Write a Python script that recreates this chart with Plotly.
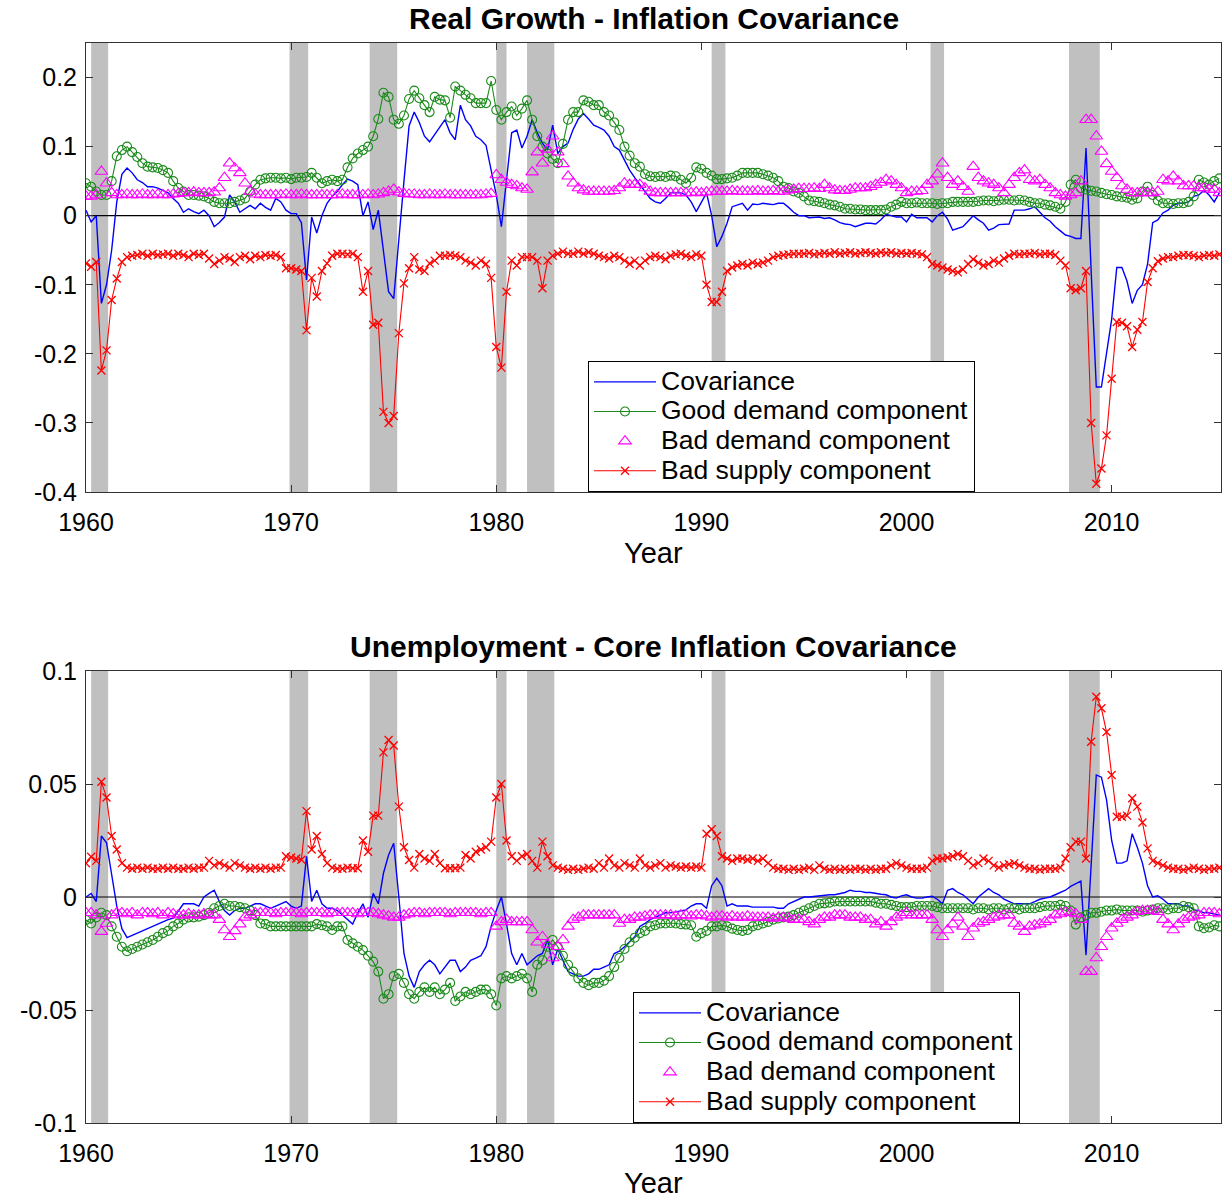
import plotly.graph_objects as go

# ---------------- data (quarterly, 1960Q1 .. 2015Q2) ----------------
cov1 = [
    0.008, -0.009, 0.0, -0.127,     # 1960
    -0.1, -0.05, 0.02, 0.06,        # 1961
    0.069, 0.062, 0.052, 0.048,     # 1962
    0.042, 0.042, 0.04, 0.036,      # 1963
    0.033, 0.025, 0.018, 0.005,     # 1964
    0.01, 0.006, 0.003, 0.008,      # 1965
    0.0, -0.016, -0.01, -0.002,     # 1966
    0.03, 0.02, 0.005, 0.01,        # 1967
    0.015, 0.01, 0.018, 0.012,      # 1968
    0.008, 0.025, 0.02, 0.008,      # 1969
    0.003, 0.003, -0.01, -0.093,    # 1970
    -0.002, -0.025, 0.0, 0.018,     # 1971
    0.028, 0.035, 0.045, 0.053,     # 1972
    0.05, 0.045, 0.0, 0.02,         # 1973
    -0.02, 0.008, -0.05, -0.11,     # 1974
    -0.12, -0.03, 0.05, 0.13,       # 1975
    0.15, 0.135, 0.115, 0.107,      # 1976
    0.118, 0.129, 0.139, 0.12,      # 1977
    0.11, 0.16, 0.139, 0.13,        # 1978
    0.115, 0.11, 0.102, 0.066,      # 1979
    0.03, -0.016, 0.052, 0.12,      # 1980
    0.124, 0.098, 0.115, 0.139,     # 1981
    0.12, 0.105, 0.095, 0.131,      # 1982
    0.09, 0.1, 0.105, 0.125,        # 1983
    0.14, 0.148, 0.14, 0.131,       # 1984
    0.128, 0.124, 0.115, 0.1,       # 1985
    0.095, 0.08, 0.066, 0.055,      # 1986
    0.045, 0.035, 0.025, 0.02,      # 1987
    0.018, 0.025, 0.033, 0.033,     # 1988
    0.033, 0.03, 0.02, 0.006,       # 1989
    0.02, 0.033, 0.0, -0.045,       # 1990
    -0.03, -0.011, 0.013, 0.015,    # 1991
    0.018, 0.008, 0.017, 0.016,     # 1992
    0.018, 0.017, 0.016, 0.018,     # 1993
    0.018, 0.012, 0.005, 0.0,       # 1994
    0.0, -0.003, -0.003, -0.002,    # 1995
    -0.004, -0.003, -0.006, -0.01,  # 1996
    -0.012, -0.013, -0.016, -0.013, # 1997
    -0.011, -0.011, -0.012, -0.006, # 1998
    0.002, 0.0, -0.002, -0.002,     # 1999
    -0.009, 0.002, -0.003, -0.003,  # 2000
    -0.003, -0.009, 0.0, 0.005,     # 2001
    -0.005, -0.021, -0.018, -0.016, # 2002
    -0.008, 0.0, -0.006, -0.011,    # 2003
    -0.021, -0.018, -0.013, -0.013, # 2004
    -0.012, 0.008, 0.008, 0.008,    # 2005
    0.01, 0.013, 0.005, -0.003,     # 2006
    -0.008, -0.016, -0.022, -0.028, # 2007
    -0.03, -0.033, -0.033, 0.098,   # 2008
    -0.08, -0.248, -0.248, -0.2,    # 2009
    -0.15, -0.075, -0.075, -0.095,  # 2010
    -0.127, -0.108, -0.1, -0.07,    # 2011
    -0.01, -0.006, 0.004, 0.008,    # 2012
    0.015, 0.018, 0.018, 0.02,      # 2013
    0.028, 0.03, 0.037, 0.03,       # 2014
    0.02, 0.033,                    # 2015
]

good1 = [
    0.047, 0.042, 0.035, 0.03,      # 1960
    0.03, 0.05, 0.086, 0.095,       # 1961
    0.1, 0.092, 0.085, 0.076,       # 1962
    0.071, 0.07, 0.069, 0.066,      # 1963
    0.062, 0.05, 0.04, 0.035,       # 1964
    0.03, 0.03, 0.029, 0.028,       # 1965
    0.025, 0.02, 0.018, 0.018,      # 1966
    0.018, 0.02, 0.022, 0.025,      # 1967
    0.035, 0.045, 0.052, 0.054,     # 1968
    0.055, 0.055, 0.054, 0.055,     # 1969
    0.053, 0.055, 0.055, 0.056,     # 1970
    0.062, 0.055, 0.047, 0.05,      # 1971
    0.052, 0.05, 0.052, 0.07,       # 1972
    0.083, 0.09, 0.095, 0.1,        # 1973
    0.115, 0.14, 0.178, 0.172,      # 1974
    0.139, 0.133, 0.145, 0.169,     # 1975
    0.181, 0.17, 0.16, 0.15,        # 1976
    0.172, 0.168, 0.167, 0.142,     # 1977
    0.187, 0.181, 0.175, 0.17,      # 1978
    0.163, 0.163, 0.163, 0.195,     # 1979
    0.153, 0.139, 0.15, 0.158,      # 1980
    0.145, 0.155, 0.167, 0.139,     # 1981
    0.115, 0.1, 0.09, 0.082,        # 1982
    0.076, 0.104, 0.139, 0.15,      # 1983
    0.15, 0.167, 0.165, 0.16,       # 1984
    0.16, 0.15, 0.145, 0.135,       # 1985
    0.124, 0.1, 0.087, 0.076,       # 1986
    0.071, 0.06, 0.057, 0.056,      # 1987
    0.057, 0.056, 0.058, 0.057,     # 1988
    0.052, 0.047, 0.055, 0.07,      # 1989
    0.068, 0.062, 0.058, 0.053,     # 1990
    0.053, 0.054, 0.055, 0.058,     # 1991
    0.062, 0.062, 0.062, 0.062,     # 1992
    0.06, 0.058, 0.055, 0.05,       # 1993
    0.042, 0.04, 0.035, 0.033,      # 1994
    0.028, 0.022, 0.021, 0.02,      # 1995
    0.018, 0.016, 0.015, 0.013,     # 1996
    0.01, 0.01, 0.009, 0.009,       # 1997
    0.008, 0.008, 0.008, 0.008,     # 1998
    0.009, 0.013, 0.016, 0.02,      # 1999
    0.018, 0.018, 0.019, 0.018,     # 2000
    0.018, 0.018, 0.017, 0.018,     # 2001
    0.018, 0.02, 0.02, 0.02,        # 2002
    0.02, 0.02, 0.021, 0.022,       # 2003
    0.022, 0.021, 0.022, 0.023,     # 2004
    0.023, 0.022, 0.023, 0.022,     # 2005
    0.02, 0.018, 0.018, 0.016,      # 2006
    0.015, 0.013, 0.01, 0.02,       # 2007
    0.045, 0.052, 0.04, 0.038,      # 2008
    0.036, 0.035, 0.033, 0.031,     # 2009
    0.03, 0.028, 0.027, 0.026,      # 2010
    0.023, 0.025, 0.035, 0.042,     # 2011
    0.03, 0.022, 0.018, 0.018,      # 2012
    0.017, 0.018, 0.018, 0.02,      # 2013
    0.028, 0.052, 0.048, 0.045,     # 2014
    0.05, 0.054,                    # 2015
]

baddem1 = [
    0.028, 0.028, 0.03, 0.064,      # 1960
    0.047, 0.033, 0.03, 0.03,       # 1961
    0.031, 0.03, 0.03, 0.031,       # 1962
    0.03, 0.03, 0.031, 0.03,        # 1963
    0.03, 0.031, 0.032, 0.033,      # 1964
    0.033, 0.034, 0.033, 0.033,     # 1965
    0.033, 0.034, 0.04, 0.055,      # 1966
    0.076, 0.069, 0.062, 0.047,     # 1967
    0.035, 0.031, 0.03, 0.03,       # 1968
    0.03, 0.03, 0.03, 0.031,        # 1969
    0.03, 0.03, 0.031, 0.03,        # 1970
    0.03, 0.03, 0.03, 0.03,         # 1971
    0.03, 0.03, 0.031, 0.03,        # 1972
    0.03, 0.03, 0.03, 0.031,        # 1973
    0.03, 0.031, 0.033, 0.035,      # 1974
    0.038, 0.034, 0.032, 0.031,     # 1975
    0.031, 0.03, 0.03, 0.031,       # 1976
    0.03, 0.03, 0.031, 0.03,        # 1977
    0.03, 0.03, 0.03, 0.03,         # 1978
    0.03, 0.03, 0.031, 0.032,       # 1979
    0.059, 0.052, 0.048, 0.045,     # 1980
    0.043, 0.04, 0.038, 0.063,      # 1981
    0.092, 0.076, 0.096, 0.115,     # 1982
    0.092, 0.075, 0.057, 0.047,     # 1983
    0.04, 0.037, 0.035, 0.035,      # 1984
    0.035, 0.035, 0.035, 0.036,     # 1985
    0.04, 0.047, 0.045, 0.045,      # 1986
    0.045, 0.04, 0.035, 0.033,      # 1987
    0.033, 0.033, 0.033, 0.033,     # 1988
    0.033, 0.033, 0.033, 0.034,     # 1989
    0.033, 0.034, 0.035, 0.035,     # 1990
    0.035, 0.035, 0.036, 0.035,     # 1991
    0.035, 0.035, 0.035, 0.036,     # 1992
    0.035, 0.035, 0.036, 0.035,     # 1993
    0.035, 0.037, 0.038, 0.039,     # 1994
    0.039, 0.039, 0.04, 0.039,      # 1995
    0.045, 0.04, 0.037, 0.036,      # 1996
    0.036, 0.038, 0.04, 0.04,       # 1997
    0.04, 0.042, 0.045, 0.048,      # 1998
    0.052, 0.05, 0.045, 0.04,       # 1999
    0.033, 0.035, 0.035, 0.036,     # 2000
    0.045, 0.05, 0.06, 0.076,       # 2001
    0.055, 0.045, 0.05, 0.042,      # 2002
    0.035, 0.071, 0.055, 0.05,      # 2003
    0.047, 0.045, 0.04, 0.033,      # 2004
    0.045, 0.055, 0.062, 0.066,     # 2005
    0.052, 0.05, 0.052, 0.045,      # 2006
    0.04, 0.033, 0.03, 0.028,       # 2007
    0.03, 0.033, 0.05, 0.139,       # 2008
    0.139, 0.115, 0.093, 0.075,     # 2009
    0.064, 0.055, 0.043, 0.038,     # 2010
    0.033, 0.033, 0.033, 0.033,     # 2011
    0.033, 0.035, 0.052, 0.05,      # 2012
    0.057, 0.05, 0.043, 0.043,      # 2013
    0.043, 0.04, 0.04, 0.038,       # 2014
    0.038, 0.033,                   # 2015
]

badsup1 = [
    -0.069, -0.074, -0.067, -0.224, # 1960
    -0.195, -0.122, -0.091, -0.067, # 1961
    -0.06, -0.058, -0.057, -0.055,  # 1962
    -0.058, -0.055, -0.057, -0.056, # 1963
    -0.055, -0.058, -0.055, -0.057, # 1964
    -0.06, -0.055, -0.057, -0.055,  # 1965
    -0.062, -0.07, -0.065, -0.06,   # 1966
    -0.062, -0.067, -0.06, -0.058,  # 1967
    -0.063, -0.058, -0.06, -0.057,  # 1968
    -0.058, -0.057, -0.06, -0.076,  # 1969
    -0.076, -0.078, -0.08, -0.166,  # 1970
    -0.09, -0.117, -0.08, -0.069,   # 1971
    -0.058, -0.055, -0.055, -0.056, # 1972
    -0.055, -0.06, -0.11, -0.08,    # 1973
    -0.158, -0.155, -0.284, -0.3,   # 1974
    -0.29, -0.17, -0.098, -0.076,   # 1975
    -0.06, -0.078, -0.08, -0.069,   # 1976
    -0.065, -0.058, -0.058, -0.057, # 1977
    -0.058, -0.06, -0.065, -0.068,  # 1978
    -0.072, -0.065, -0.07, -0.09,   # 1979
    -0.19, -0.22, -0.11, -0.065,    # 1980
    -0.072, -0.06, -0.06, -0.06,    # 1981
    -0.065, -0.105, -0.065, -0.058, # 1982
    -0.055, -0.052, -0.055, -0.055, # 1983
    -0.052, -0.055, -0.053, -0.055, # 1984
    -0.058, -0.06, -0.062, -0.058,  # 1985
    -0.06, -0.065, -0.07, -0.065,   # 1986
    -0.072, -0.065, -0.06, -0.058,  # 1987
    -0.06, -0.063, -0.058, -0.056,  # 1988
    -0.055, -0.058, -0.06, -0.056,  # 1989
    -0.058, -0.1, -0.125, -0.125,   # 1990
    -0.11, -0.08, -0.075, -0.072,   # 1991
    -0.07, -0.072, -0.068, -0.07,   # 1992
    -0.068, -0.065, -0.06, -0.058,  # 1993
    -0.057, -0.056, -0.055, -0.055, # 1994
    -0.055, -0.054, -0.056, -0.055, # 1995
    -0.054, -0.055, -0.053, -0.055, # 1996
    -0.054, -0.053, -0.055, -0.054, # 1997
    -0.053, -0.054, -0.055, -0.053, # 1998
    -0.054, -0.053, -0.055, -0.054, # 1999
    -0.055, -0.054, -0.055, -0.056, # 2000
    -0.06, -0.07, -0.072, -0.075,   # 2001
    -0.078, -0.08, -0.082, -0.078,  # 2002
    -0.07, -0.063, -0.068, -0.072,  # 2003
    -0.07, -0.065, -0.068, -0.062,  # 2004
    -0.058, -0.055, -0.056, -0.055, # 2005
    -0.055, -0.054, -0.056, -0.055, # 2006
    -0.055, -0.057, -0.065, -0.072, # 2007
    -0.105, -0.108, -0.105, -0.08,  # 2008
    -0.3, -0.388, -0.366, -0.318,   # 2009
    -0.236, -0.154, -0.155, -0.16,  # 2010
    -0.19, -0.165, -0.154, -0.096,  # 2011
    -0.076, -0.066, -0.062, -0.06,  # 2012
    -0.06, -0.058, -0.057, -0.057,  # 2013
    -0.058, -0.06, -0.058, -0.057,  # 2014
    -0.058, -0.056,                 # 2015
]

cov2 = [
    0.0, 0.0016, -0.002, 0.027,         # 1960
    0.024, 0.01, -0.004, -0.014,        # 1961
    -0.018, -0.017, -0.016, -0.015,     # 1962
    -0.014, -0.013, -0.012, -0.011,     # 1963
    -0.01, -0.0094, -0.006, -0.003,     # 1964
    -0.003, -0.003, -0.004, 0.0,        # 1965
    0.0016, 0.003, -0.002, -0.006,      # 1966
    -0.008, -0.006, -0.005, -0.005,     # 1967
    -0.004, -0.003, -0.003, -0.004,     # 1968
    -0.005, -0.004, -0.003, -0.002,     # 1969
    -0.004, -0.005, -0.004, 0.018,      # 1970
    -0.002, 0.003, -0.003, -0.005,      # 1971
    -0.005, -0.006, -0.008, -0.01,      # 1972
    -0.012, -0.007, -0.003, -0.009,     # 1973
    0.0016, -0.003, 0.0105, 0.0186,     # 1974
    0.0238, 0.0, -0.025, -0.035,        # 1975
    -0.04, -0.033, -0.03, -0.028,       # 1976
    -0.03, -0.034, -0.031, -0.028,      # 1977
    -0.028, -0.033, -0.031, -0.028,     # 1978
    -0.027, -0.026, -0.022, -0.013,     # 1979
    -0.006, 0.0, -0.012, -0.025,        # 1980
    -0.03, -0.025, -0.03, -0.028,       # 1981
    -0.026, -0.025, -0.019, -0.03,      # 1982
    -0.023, -0.028, -0.033, -0.034,     # 1983
    -0.035, -0.035, -0.034, -0.032,     # 1984
    -0.032, -0.031, -0.03, -0.025,      # 1985
    -0.024, -0.022, -0.02, -0.0176,     # 1986
    -0.013, -0.0117, -0.01, -0.009,     # 1987
    -0.008, -0.007, -0.007, -0.0065,    # 1988
    -0.006, -0.0057, -0.004, -0.003,    # 1989
    -0.003, -0.005, 0.005, 0.0083,      # 1990
    0.005, -0.004, -0.003, -0.004,      # 1991
    -0.004, -0.004, -0.0045, -0.0045,   # 1992
    -0.0045, -0.0045, -0.0045, -0.005,  # 1993
    -0.005, -0.003, -0.002, -0.001,     # 1994
    0.0, 0.0, 0.0003, 0.0005,           # 1995
    0.0008, 0.001, 0.001, 0.0015,       # 1996
    0.002, 0.003, 0.0025, 0.0025,       # 1997
    0.002, 0.002, 0.0015, 0.0012,       # 1998
    0.001, 0.0, -0.0005, 0.0005,        # 1999
    0.001, 0.0, -0.0005, -0.0005,       # 2000
    0.0, 0.0003, -0.001, -0.003,        # 2001
    0.003, 0.0037, 0.002, 0.001,        # 2002
    -0.001, -0.003, 0.0, 0.002,         # 2003
    0.0037, 0.002, 0.001, -0.001,       # 2004
    -0.002, -0.003, -0.003, -0.003,     # 2005
    -0.003, -0.002, -0.001, -0.0005,    # 2006
    0.0, 0.001, 0.002, 0.003,           # 2007
    0.0047, 0.006, 0.007, -0.0257,      # 2008
    0.015, 0.054, 0.053, 0.043,         # 2009
    0.025, 0.015, 0.015, 0.016,         # 2010
    0.028, 0.022, 0.015, 0.005,         # 2011
    0.0, 0.0005, -0.001, -0.003,        # 2012
    -0.003, -0.003, -0.004, -0.004,     # 2013
    -0.0057, -0.006, -0.007, -0.007,    # 2014
    -0.0075, -0.008,                    # 2015
]

good2 = [
    -0.0102, -0.0117, -0.009, -0.007,   # 1960
    -0.008, -0.013, -0.0176, -0.022,    # 1961
    -0.024, -0.023, -0.022, -0.021,     # 1962
    -0.02, -0.019, -0.0176, -0.016,     # 1963
    -0.015, -0.013, -0.0117, -0.01,     # 1964
    -0.009, -0.009, -0.0087, -0.008,    # 1965
    -0.007, -0.005, -0.004, -0.003,     # 1966
    -0.004, -0.004, -0.0045, -0.005,    # 1967
    -0.006, -0.008, -0.0117, -0.012,    # 1968
    -0.013, -0.013, -0.013, -0.013,     # 1969
    -0.013, -0.013, -0.013, -0.013,     # 1970
    -0.013, -0.012, -0.0125, -0.013,    # 1971
    -0.0146, -0.013, -0.013, -0.019,    # 1972
    -0.0205, -0.022, -0.0235, -0.026,   # 1973
    -0.0286, -0.033, -0.045, -0.043,    # 1974
    -0.035, -0.034, -0.038, -0.043,     # 1975
    -0.045, -0.042, -0.04, -0.042,      # 1976
    -0.04, -0.043, -0.041, -0.038,      # 1977
    -0.046, -0.044, -0.042, -0.043,     # 1978
    -0.042, -0.041, -0.041, -0.043,     # 1979
    -0.048, -0.036, -0.035, -0.036,     # 1980
    -0.035, -0.034, -0.036, -0.042,     # 1981
    -0.03, -0.028, -0.022, -0.019,      # 1982
    -0.022, -0.026, -0.03, -0.033,      # 1983
    -0.036, -0.038, -0.039, -0.038,     # 1984
    -0.038, -0.037, -0.035, -0.031,     # 1985
    -0.027, -0.023, -0.02, -0.018,      # 1986
    -0.016, -0.015, -0.013, -0.0125,    # 1987
    -0.0117, -0.0117, -0.0115, -0.0117, # 1988
    -0.012, -0.0122, -0.0125, -0.0176,  # 1989
    -0.016, -0.015, -0.013, -0.013,     # 1990
    -0.0125, -0.013, -0.014, -0.0146,   # 1991
    -0.015, -0.0146, -0.013, -0.0125,   # 1992
    -0.0117, -0.011, -0.01, -0.0095,    # 1993
    -0.009, -0.0087, -0.008, -0.007,    # 1994
    -0.006, -0.005, -0.004, -0.003,     # 1995
    -0.0028, -0.0025, -0.002, -0.002,   # 1996
    -0.002, -0.002, -0.002, -0.002,     # 1997
    -0.002, -0.002, -0.0025, -0.003,    # 1998
    -0.003, -0.0035, -0.004, -0.0045,   # 1999
    -0.0045, -0.0045, -0.004, -0.004,   # 2000
    -0.004, -0.004, -0.0045, -0.005,    # 2001
    -0.005, -0.005, -0.005, -0.005,     # 2002
    -0.005, -0.0055, -0.005, -0.005,    # 2003
    -0.0055, -0.005, -0.005, -0.0055,   # 2004
    -0.005, -0.005, -0.0055, -0.005,    # 2005
    -0.005, -0.005, -0.0045, -0.004,    # 2006
    -0.004, -0.004, -0.0035, -0.004,    # 2007
    -0.006, -0.0122, -0.009, -0.008,    # 2008
    -0.007, -0.007, -0.0065, -0.006,    # 2009
    -0.006, -0.0055, -0.006, -0.006,    # 2010
    -0.006, -0.006, -0.0065, -0.006,    # 2011
    -0.0055, -0.005, -0.005, -0.0055,   # 2012
    -0.005, -0.005, -0.004, -0.0045,    # 2013
    -0.005, -0.013, -0.0138, -0.0135,   # 2014
    -0.0125, -0.013,                    # 2015
]

baddem2 = [
    -0.007, -0.007, -0.008, -0.0153,    # 1960
    -0.0117, -0.008, -0.007, -0.007,    # 1961
    -0.0075, -0.007, -0.008, -0.007,    # 1962
    -0.007, -0.0075, -0.007, -0.008,    # 1963
    -0.007, -0.0075, -0.008, -0.008,    # 1964
    -0.0075, -0.008, -0.008, -0.0075,   # 1965
    -0.008, -0.008, -0.01, -0.0146,     # 1966
    -0.0176, -0.015, -0.012, -0.009,    # 1967
    -0.008, -0.007, -0.007, -0.007,     # 1968
    -0.007, -0.0075, -0.007, -0.007,    # 1969
    -0.007, -0.007, -0.0075, -0.007,    # 1970
    -0.007, -0.007, -0.007, -0.0075,    # 1971
    -0.007, -0.007, -0.007, -0.007,     # 1972
    -0.007, -0.0075, -0.007, -0.007,    # 1973
    -0.007, -0.0075, -0.008, -0.0085,   # 1974
    -0.009, -0.009, -0.008, -0.0075,    # 1975
    -0.007, -0.007, -0.0075, -0.007,    # 1976
    -0.007, -0.007, -0.007, -0.0075,    # 1977
    -0.007, -0.007, -0.007, -0.007,     # 1978
    -0.007, -0.0075, -0.007, -0.007,    # 1979
    -0.013, -0.011, -0.01, -0.011,      # 1980
    -0.011, -0.011, -0.011, -0.0146,    # 1981
    -0.02, -0.0176, -0.021, -0.027,     # 1982
    -0.022, -0.019, -0.013, -0.01,      # 1983
    -0.009, -0.008, -0.008, -0.008,     # 1984
    -0.008, -0.008, -0.008, -0.008,     # 1985
    -0.0117, -0.01, -0.01, -0.009,      # 1986
    -0.009, -0.0085, -0.008, -0.008,    # 1987
    -0.008, -0.008, -0.008, -0.0085,    # 1988
    -0.008, -0.008, -0.0085, -0.008,    # 1989
    -0.008, -0.0085, -0.009, -0.0085,   # 1990
    -0.0085, -0.009, -0.0085, -0.009,   # 1991
    -0.009, -0.0085, -0.009, -0.009,    # 1992
    -0.009, -0.009, -0.0095, -0.009,    # 1993
    -0.009, -0.0095, -0.01, -0.01,      # 1994
    -0.01, -0.011, -0.012, -0.01,       # 1995
    -0.009, -0.009, -0.008, -0.008,     # 1996
    -0.008, -0.009, -0.009, -0.009,     # 1997
    -0.01, -0.01, -0.012, -0.011,       # 1998
    -0.013, -0.011, -0.009, -0.008,     # 1999
    -0.007, -0.008, -0.008, -0.008,     # 2000
    -0.008, -0.01, -0.0146, -0.0176,    # 2001
    -0.0146, -0.012, -0.009, -0.013,    # 2002
    -0.0176, -0.0138, -0.0117, -0.011,  # 2003
    -0.01, -0.009, -0.0085, -0.008,     # 2004
    -0.008, -0.0117, -0.013, -0.0153,   # 2005
    -0.013, -0.0125, -0.012, -0.011,    # 2006
    -0.01, -0.008, -0.0075, -0.0067,    # 2007
    -0.007, -0.0075, -0.01, -0.033,     # 2008
    -0.033, -0.027, -0.022, -0.0176,    # 2009
    -0.0138, -0.0117, -0.01, -0.009,    # 2010
    -0.008, -0.0065, -0.006, -0.006,    # 2011
    -0.006, -0.0065, -0.01, -0.012,     # 2012
    -0.0146, -0.012, -0.01, -0.009,     # 2013
    -0.0085, -0.008, -0.007, -0.007,    # 2014
    -0.007, -0.0075,                    # 2015
]

badsup2 = [
    0.0149, 0.0178, 0.016, 0.051,       # 1960
    0.044, 0.027, 0.021, 0.015,         # 1961
    0.013, 0.0125, 0.013, 0.0125,       # 1962
    0.013, 0.0125, 0.0125, 0.013,       # 1963
    0.0125, 0.013, 0.0125, 0.0125,      # 1964
    0.013, 0.0125, 0.013, 0.013,        # 1965
    0.016, 0.014, 0.015, 0.014,         # 1966
    0.013, 0.015, 0.014, 0.013,         # 1967
    0.0125, 0.013, 0.0125, 0.013,       # 1968
    0.0125, 0.013, 0.013, 0.018,        # 1969
    0.0175, 0.017, 0.0165, 0.038,       # 1970
    0.021, 0.027, 0.019, 0.015,         # 1971
    0.013, 0.0125, 0.0125, 0.013,       # 1972
    0.0127, 0.0127, 0.025, 0.02,        # 1973
    0.036, 0.036, 0.064, 0.0695,        # 1974
    0.067, 0.04, 0.022, 0.0164,         # 1975
    0.013, 0.019, 0.017, 0.016,         # 1976
    0.019, 0.015, 0.0127, 0.0127,       # 1977
    0.0127, 0.013, 0.0186, 0.017,       # 1978
    0.02, 0.021, 0.022, 0.0245,         # 1979
    0.044, 0.05, 0.025, 0.018,          # 1980
    0.016, 0.018, 0.019, 0.016,         # 1981
    0.013, 0.0245, 0.018, 0.014,        # 1982
    0.013, 0.0125, 0.012, 0.0125,       # 1983
    0.012, 0.0125, 0.013, 0.0125,       # 1984
    0.015, 0.013, 0.017, 0.014,         # 1985
    0.013, 0.015, 0.014, 0.013,         # 1986
    0.017, 0.014, 0.013, 0.014,         # 1987
    0.015, 0.013, 0.014, 0.0135,        # 1988
    0.013, 0.0135, 0.013, 0.0135,       # 1989
    0.013, 0.028, 0.03, 0.027,          # 1990
    0.018, 0.017, 0.016, 0.017,         # 1991
    0.017, 0.0165, 0.017, 0.016,        # 1992
    0.017, 0.015, 0.013, 0.0125,        # 1993
    0.0125, 0.012, 0.0125, 0.012,       # 1994
    0.0125, 0.013, 0.012, 0.014,        # 1995
    0.0125, 0.012, 0.0125, 0.012,       # 1996
    0.0125, 0.012, 0.0125, 0.0125,      # 1997
    0.012, 0.0125, 0.012, 0.0125,       # 1998
    0.0125, 0.014, 0.015, 0.014,        # 1999
    0.013, 0.0125, 0.0125, 0.0125,      # 2000
    0.013, 0.016, 0.017, 0.017,         # 2001
    0.0175, 0.018, 0.019, 0.018,        # 2002
    0.016, 0.014, 0.015, 0.017,         # 2003
    0.016, 0.014, 0.013, 0.014,         # 2004
    0.0145, 0.015, 0.014, 0.013,        # 2005
    0.0125, 0.0125, 0.012, 0.0125,      # 2006
    0.0125, 0.0125, 0.013, 0.017,       # 2007
    0.022, 0.0245, 0.0245, 0.017,       # 2008
    0.0687, 0.0886, 0.0835, 0.073,      # 2009
    0.054, 0.0355, 0.0355, 0.036,       # 2010
    0.0437, 0.04, 0.033, 0.0215,        # 2011
    0.016, 0.015, 0.014, 0.013,         # 2012
    0.0125, 0.0125, 0.012, 0.0125,      # 2013
    0.013, 0.0125, 0.012, 0.0125,       # 2014
    0.0125, 0.013,                      # 2015
]

# NBER recessions (peak, trough) in fractional years
rec_start = [1960.25, 1969.92, 1973.83, 1980.0, 1981.5, 1990.5, 2001.17, 2007.92]
rec_end = [1961.08, 1970.83, 1975.17, 1980.5, 1982.83, 1991.17, 2001.83, 2009.42]

series_names = ["Covariance", "Good demand component", "Bad demand component", "Bad supply component"]
titles = ["Real Growth - Inflation Covariance", "Unemployment - Core Inflation Covariance"]
x_ticks = [1960, 1970, 1980, 1990, 2000, 2010]
y1_ticks = [-0.4, -0.3, -0.2, -0.1, 0, 0.1, 0.2]
y1_labels = ["-0.4", "-0.3", "-0.2", "-0.1", "0", "0.1", "0.2"]
y2_ticks = [-0.1, -0.05, 0, 0.05, 0.1]
y2_labels = ["-0.1", "-0.05", "0", "0.05", "0.1"]

# ---------------- figure ----------------
FONT = "Liberation Sans, Arial, Helvetica, sans-serif"
W, H = 1228, 1203
ML, MR, MT, MB = 86, 7, 43, 80
PH = H - MT - MB
PW = W - ML - MR

def py(pix):
    return 1 - (pix - MT) / PH

def px(pix):
    return (pix - ML) / PW

years = [1960 + 0.25 * i for i in range(len(cov1))]

BLUE, GREEN, MAG, RED = "#0000ff", "#1a8a1a", "#ff00ff", "#ff0000"

def leg_name(n):
    return '<span style="font-size:26.5px">' + n + '</span>'

fig = go.Figure()

def add_panel(cov, good, bdem, bsup, xa, ya, leg):
    fig.add_trace(go.Scatter(x=years, y=cov, mode="lines", name=leg_name(series_names[0]),
                             line=dict(color=BLUE, width=1.4), xaxis=xa, yaxis=ya, legend=leg))
    fig.add_trace(go.Scatter(x=years, y=good, mode="lines+markers", name=leg_name(series_names[1]),
                             line=dict(color=GREEN, width=1.1),
                             marker=dict(symbol="circle-open", size=9, color=GREEN, line=dict(width=1.1)),
                             xaxis=xa, yaxis=ya, legend=leg))
    fig.add_trace(go.Scatter(x=years, y=bdem, mode="markers", name=leg_name(series_names[2]),
                             marker=dict(symbol="triangle-up-open", size=11, color=MAG, line=dict(width=1.1)),
                             xaxis=xa, yaxis=ya, legend=leg))
    fig.add_trace(go.Scatter(x=years, y=bsup, mode="lines+markers", name=leg_name(series_names[3]),
                             line=dict(color=RED, width=1.1),
                             marker=dict(symbol="x-thin", size=8, color=RED, line=dict(width=1.3, color=RED)),
                             xaxis=xa, yaxis=ya, legend=leg))

add_panel(cov1, good1, baddem1, badsup1, "x", "y", "legend")
add_panel(cov2, good2, baddem2, badsup2, "x2", "y2", "legend2")

shapes = []
for xr, yr in (("x", "y"), ("x2", "y2")):
    for s, e in zip(rec_start, rec_end):
        shapes.append(dict(type="rect", xref=xr, yref=yr + " domain", x0=s, x1=e, y0=0, y1=1,
                           fillcolor="#c0c0c0", line=dict(width=0), layer="below"))
    shapes.append(dict(type="line", xref=xr + " domain", yref=yr, x0=0, x1=1, y0=0, y1=0,
                       line=dict(color="#000000", width=1.2), layer="below"))

top_dom = [py(492), 1.0]
bot_dom = [0.0, py(671)]

axis_common = dict(showline=True, linecolor="#333333", linewidth=1, mirror="ticks",
                   ticks="inside", ticklen=7, tickcolor="#333333", showgrid=False, zeroline=False,
                   tickfont=dict(family=FONT, size=25, color="#000000"))

leg_common = dict(xanchor="left", yanchor="bottom", bgcolor="white", bordercolor="#000000",
                  borderwidth=1, font=dict(family=FONT, size=20.5, color="#000000"),
                  tracegroupgap=0, itemwidth=62)

fig.update_layout(
    width=W, height=H, margin=dict(l=ML, r=MR, t=MT, b=MB),
    paper_bgcolor="white", plot_bgcolor="white",
    font=dict(family=FONT, color="#000000"),
    shapes=shapes,
    xaxis=dict(domain=[0, 1], anchor="y", range=[1960, 2015.33], tickvals=x_ticks,
               ticktext=[str(v) for v in x_ticks], ticklabelstandoff=8, **axis_common),
    yaxis=dict(domain=top_dom, anchor="x", range=[-0.4, 0.25], tickvals=y1_ticks,
               ticktext=y1_labels, ticklabelstandoff=3, **axis_common),
    xaxis2=dict(domain=[0, 1], anchor="y2", range=[1960, 2015.33], tickvals=x_ticks,
                ticktext=[str(v) for v in x_ticks], ticklabelstandoff=8, **axis_common),
    yaxis2=dict(domain=bot_dom, anchor="x2", range=[-0.1, 0.1], tickvals=y2_ticks,
                ticktext=y2_labels, ticklabelstandoff=3, **axis_common),
    legend=dict(x=px(588), y=top_dom[0], **leg_common),
    legend2=dict(x=px(633), y=0.0, **leg_common),
    showlegend=True,
)

annotations = [
    dict(text="<b>" + titles[0] + "</b>", x=0.5, y=py(18), xref="paper", yref="paper",
         showarrow=False, font=dict(family=FONT, size=30, color="#000000"), yanchor="middle"),
    dict(text="<b>" + titles[1] + "</b>", x=0.5, y=py(646), xref="paper", yref="paper",
         showarrow=False, font=dict(family=FONT, size=30, color="#000000"), yanchor="middle"),
    dict(text="Year", x=0.5, y=py(553), xref="paper", yref="paper", showarrow=False,
         font=dict(family=FONT, size=29, color="#000000"), yanchor="middle"),
    dict(text="Year", x=0.5, y=py(1183), xref="paper", yref="paper", showarrow=False,
         font=dict(family=FONT, size=29, color="#000000"), yanchor="middle"),
]
fig.update_layout(annotations=annotations)

fig.write_html("out.html")
